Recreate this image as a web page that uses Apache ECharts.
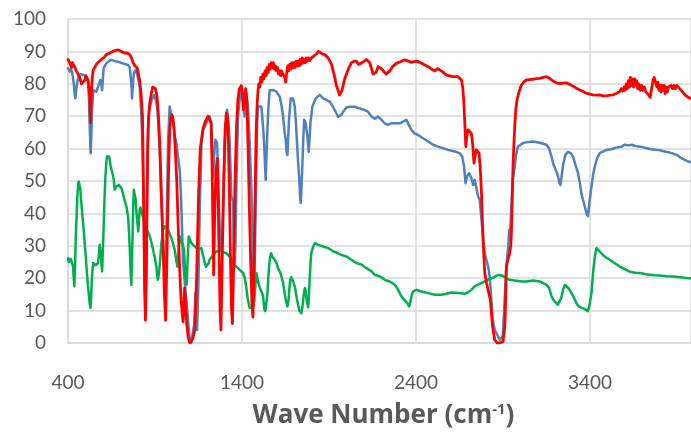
<!DOCTYPE html>
<html>
<head>
<meta charset="utf-8">
<script src="https://cdn.jsdelivr.net/npm/echarts@6/dist/echarts.min.js"></script>
<style>html,body{margin:0;padding:0;background:#fff;}#chart{width:691px;height:436px;}</style>
</head>
<body>
<div id="chart"></div>
<script>
const xTickLabels = [400, 1400, 2400, 3400];
const yTickLabels = [0, 10, 20, 30, 40, 50, 60, 70, 80, 90, 100];
const axisTitle = 'Wave Number (cm';
const axisTitleSup = '-1';

const blueData = [[400,84.8],[410,83.8],[418,84.5],[425,83.2],[433,80.2],[438,77],[442,75.5],[447,78],[452,80.2],[463,82.7],[475,83],[486,83.2],[496,82.5],[506,82.2],[515,80.7],[520,76],[525,66.8],[530,58.6],[534,64],[538,71.9],[543,76.5],[548,78],[556,78],[563,77.6],[575,79.5],[586,81.2],[591,80.5],[596,78],[601,82],[605,84.8],[620,86.3],[635,87],[649,87.4],[668,87],[688,86.8],[716,86.3],[745,85.8],[755,85],[759,84.8],[764,80],[768,75.5],[773,80],[778,83.2],[789,84.3],[797,83],[803,81.7],[812,79.1],[820,72],[828,61.7],[835,40],[840,20],[845,12],[850,25],[855,50],[860,66],[867,72],[880,75],[895,76.5],[905,75],[912,73],[920,67],[928,58],[938,42],[948,28],[956,23],[962,24],[968,40],[975,62],[984,73],[993,72.5],[1003,68],[1013,64],[1023,61.7],[1033,57],[1042,53.4],[1047,48],[1052,41],[1061,25.7],[1071,18.5],[1086,9.5],[1099,1],[1108,0],[1119,0],[1126,6],[1132,15.4],[1137,10],[1142,4],[1150,20],[1157,41],[1167,61.7],[1176,65.5],[1186,66.8],[1200,68.5],[1214,69.9],[1224,67.3],[1229,60],[1234,51.4],[1240,58],[1247,62.7],[1257,61.7],[1262,54],[1266,45.2],[1272,35],[1278,28.8],[1285,32],[1291,41],[1301,61.7],[1308,68],[1314,72],[1322,68],[1329,61.7],[1335,52],[1339,45.2],[1344,44.5],[1349,43.7],[1354,22.6],[1358,24],[1362,30],[1370,55],[1377,69.9],[1386,75],[1396,77.6],[1405,75],[1415,69.9],[1420,74],[1425,77],[1435,72],[1444,61.7],[1452,50],[1458,41],[1464,20],[1469,13],[1475,30],[1482,55],[1487,68],[1492,73],[1500,73.5],[1511,73],[1519,68],[1527,61.7],[1532,55],[1536,50.4],[1541,58],[1546,66],[1552,73],[1559,78],[1578,78.1],[1597,77.6],[1617,76],[1628,73],[1636,69.9],[1645,65],[1651,62.7],[1656,59],[1661,58],[1665,63],[1670,68.9],[1680,75.5],[1693,75.5],[1703,72.9],[1710,68],[1716,61.7],[1722,56],[1728,51.4],[1733,46],[1737,43.2],[1742,48],[1747,55.5],[1752,63],[1757,68.9],[1766,67.8],[1776,63.7],[1783,59],[1788,63],[1793,67.8],[1804,72.9],[1815,74.5],[1824,75.5],[1847,76.6],[1866,75.5],[1885,75],[1904,74.5],[1923,72.9],[1942,70.9],[1952,69.8],[1962,69.4],[1972,70.5],[1981,71.4],[2000,72.7],[2019,72.9],[2048,72.9],[2076,72.4],[2105,71.9],[2124,71.4],[2144,69.9],[2163,69.2],[2182,69.9],[2201,68.9],[2220,67.8],[2239,67.3],[2258,67.8],[2278,67.8],[2306,67.8],[2325,68.3],[2345,68.9],[2354,67.8],[2364,67.3],[2373,65.8],[2392,64.7],[2412,64.2],[2440,63.2],[2469,62.2],[2498,61.2],[2527,60.6],[2555,60.1],[2584,59.6],[2622,59.1],[2651,58.6],[2665,57.6],[2676,54.5],[2684,49.3],[2693,51.4],[2705,52.4],[2718,50.9],[2728,48.8],[2737,50.4],[2747,49.8],[2757,45.2],[2766,44.2],[2783,33.9],[2795,27.5],[2804,25.7],[2815,23.5],[2823,20.6],[2832,14],[2841,7.2],[2852,4],[2862,3],[2881,1],[2898,2],[2908,12],[2919,23.6],[2930,30],[2935,34.9],[2940,33],[2946,40],[2955,50],[2967,54.4],[2975,58],[2985,60.6],[3000,61.2],[3015,61.7],[3040,62],[3072,62.2],[3110,61.8],[3149,61.2],[3165,60],[3178,57.6],[3190,55],[3197,54.4],[3210,52.5],[3216,51.5],[3223,49.5],[3230,48.8],[3238,52],[3245,55],[3258,58],[3273,59],[3288,58.6],[3302,57.5],[3316,55],[3331,52.4],[3341,49.5],[3350,46.2],[3360,44],[3370,42.1],[3380,40],[3388,39.1],[3398,44],[3408,48.3],[3418,52],[3427,54.4],[3440,57],[3456,58.6],[3494,59.6],[3523,59.8],[3550,60.3],[3580,60.6],[3600,61.2],[3620,61],[3640,61.2],[3660,60.8],[3690,60.6],[3720,60.2],[3750,59.8],[3790,59.6],[3830,59.1],[3870,58.6],[3900,58],[3920,57.2],[3944,56.5],[3965,56],[3980,55.8]];

const redData = [[400,87.5],[405,88],[410,86.5],[415,87],[420,85],[425,86.5],[430,86],[440,85],[448,84],[458,83],[467,82],[477,80],[486,80.5],[496,81],[503,82.5],[509,82],[516,81],[521,80.5],[525,76],[529,68],[533,74],[536,79],[540,82],[544,84],[553,85],[563,86],[578,86.8],[592,87.5],[605,88],[620,89],[640,89.5],[659,90],[675,90.3],[688,90.5],[705,90],[726,89.5],[740,89.5],[755,89],[765,88],[774,86.5],[785,85.5],[797,85],[805,83],[812,81],[820,77],[828,70],[832,55],[836,38],[841,15],[845,7],[850,20],[854,42],[858,60],[862,69],[870,74],[879,77],[887,79],[895,79.5],[903,78.5],[912,76],[920,70],[927,62],[935,48],[946,31],[954,15],[961,7],[968,25],[975,45],[980,58],[985,66],[991,69.5],[997,70.5],[1003,69.5],[1010,66],[1018,58],[1025,50],[1032,38],[1040,25],[1050,13],[1061,6.5],[1066,12],[1070,17],[1076,12],[1082,6],[1090,2],[1100,0],[1110,0.3],[1118,1.5],[1124,2],[1128,4],[1134,12],[1140,22],[1150,45],[1160,60],[1175,66],[1190,68.5],[1205,70],[1214,70.5],[1222,68],[1228,55],[1233,35],[1237,21],[1243,40],[1250,53],[1258,57],[1263,45],[1268,28],[1274,10],[1279,4],[1286,25],[1295,50],[1303,66],[1310,71],[1316,70],[1322,62],[1328,45],[1334,25],[1340,10],[1345,6],[1352,25],[1360,50],[1368,66],[1376,75],[1385,78.5],[1396,79.5],[1402,77],[1408,72],[1414,75],[1421,78.5],[1428,75],[1435,60],[1443,40],[1450,25],[1457,12],[1463,8],[1468,20],[1475,45],[1481,65],[1487,74],[1492,78],[1496,80],[1502,79],[1508,82],[1514,80.5],[1520,83],[1526,81.5],[1532,84],[1538,82.5],[1544,85],[1550,83.5],[1556,86],[1562,84.5],[1568,86.5],[1574,85],[1580,86.5],[1586,84.5],[1592,85.5],[1598,84],[1604,85],[1610,83],[1616,84],[1622,82.5],[1628,84],[1634,83],[1640,83.5],[1646,82],[1651,80.5],[1656,83],[1662,85.5],[1668,84],[1674,86],[1680,84.5],[1686,86.5],[1692,85],[1698,86.5],[1704,85],[1710,87],[1716,85.5],[1722,87],[1728,85.5],[1734,87.5],[1740,86],[1746,88],[1752,86.5],[1758,87.5],[1764,86.5],[1770,88],[1776,87],[1782,88],[1790,87.2],[1799,88],[1810,88.5],[1827,89.2],[1840,90],[1850,89.8],[1860,89.2],[1875,89],[1895,88],[1905,87],[1914,86],[1924,84],[1933,82],[1942,79.5],[1952,78],[1960,76.5],[1968,76.8],[1975,78],[1981,79.5],[1990,81.5],[2000,83],[2015,85],[2029,86.5],[2045,87],[2057,87],[2070,86],[2080,85.5],[2090,86.5],[2100,87],[2115,87.5],[2125,87],[2134,86.5],[2145,84.5],[2153,83],[2162,82.5],[2170,83.5],[2182,85.3],[2192,85],[2201,84.7],[2215,83.8],[2228,83],[2239,82.4],[2250,84],[2265,85.3],[2287,86.3],[2310,86.8],[2335,87.4],[2354,87],[2373,86.6],[2402,87],[2431,86.4],[2450,85.8],[2469,85.3],[2490,84.5],[2507,84],[2525,84.7],[2536,84.8],[2555,83.6],[2575,82.7],[2613,82.2],[2641,82.2],[2661,81.2],[2668,79],[2674,75],[2680,68],[2686,60.6],[2692,64],[2699,65.8],[2710,65.5],[2718,64.7],[2726,61],[2733,55.5],[2740,58],[2747,59.6],[2755,59.5],[2762,58.6],[2769,54],[2776,46.2],[2785,32],[2795,21.6],[2805,18.5],[2814,16.4],[2827,13.4],[2839,5.3],[2852,1],[2866,0],[2881,0],[2900,0.5],[2910,5],[2914,11.5],[2919,23.6],[2928,25.7],[2938,27.7],[2944,30],[2948,34],[2953,45],[2957,54.4],[2962,61],[2967,66.8],[2973,72],[2980,75],[2992,77.5],[3005,79.6],[3020,80.6],[3034,81.2],[3050,81.3],[3072,81.4],[3090,81.6],[3111,81.7],[3130,82],[3149,82.2],[3165,81.8],[3178,81.2],[3192,80.7],[3207,80.3],[3222,80.1],[3236,80.1],[3250,80.2],[3264,80.3],[3283,79.8],[3302,79.3],[3322,78.6],[3341,78.1],[3360,77.6],[3379,77.1],[3398,76.8],[3417,76.6],[3440,76.5],[3456,76.6],[3475,76.3],[3494,76.3],[3515,76.5],[3532,76.6],[3550,77],[3560,77.2],[3571,77.6],[3580,78.5],[3588,77.8],[3596,79],[3602,78],[3608,80],[3614,78.5],[3620,81],[3626,79],[3632,82],[3638,79.5],[3644,81.5],[3650,79],[3656,81.5],[3662,79.5],[3668,81],[3674,78.5],[3680,80],[3688,78],[3696,79.5],[3704,78],[3712,79],[3720,77.5],[3730,78],[3738,76.5],[3745,75.8],[3752,78],[3760,80.5],[3768,82],[3776,81.5],[3784,79],[3790,80.5],[3796,78],[3802,79.5],[3808,77.5],[3814,79.5],[3820,78],[3826,79.5],[3832,77],[3838,79],[3844,77.5],[3850,79],[3858,78.5],[3866,79.5],[3874,78.5],[3882,79.5],[3890,78.5],[3898,79.5],[3906,79],[3915,78.5],[3925,78],[3935,77.3],[3945,76.6],[3955,76],[3965,75.8],[3980,75.5]];

const greenData = [[400,26.2],[405,25],[410,25.2],[415,26],[419,25.7],[425,24.5],[429,23.6],[433,20],[437,17.5],[441,25],[445,33],[450,40],[454,45.2],[458,49],[462,49.8],[467,48.5],[471,47.3],[477,43],[483,39.1],[490,35],[496,30.8],[503,26],[509,21.6],[514,18],[519,15.4],[524,12.5],[529,10.8],[533,14],[536,18.5],[540,22],[544,24.7],[549,25],[554,24.7],[559,24],[563,23.6],[568,24],[573,24.7],[578,27.5],[582,30.3],[586,28.5],[590,26.7],[593,24],[596,22.1],[600,28],[605,36],[610,45],[615,51.4],[620,55.5],[624,57.6],[630,58],[636,57.6],[641,56],[645,54.5],[650,53.5],[655,52.4],[659,51.5],[663,50.4],[666,48.5],[668,47.3],[673,47.8],[678,48.3],[686,48.6],[693,48.8],[700,48.3],[707,47.8],[714,46.5],[720,45.2],[728,43.5],[736,42.1],[745,39.1],[750,35],[755,28.8],[760,22],[764,18],[767,24],[770,30.8],[774,40],[778,47.3],[783,46],[789,44.2],[794,40],[799,37],[804,34.4],[808,38],[812,41.1],[816,41.8],[820,41.6],[827,39.6],[834,38.3],[841,37],[848,36],[854,34.9],[862,34],[870,32.9],[877,31.5],[885,29.8],[892,28],[898,26.7],[903,25],[908,23.6],[912,21],[916,19.5],[920,20.5],[923,21.6],[930,26],[937,30.8],[946,34.9],[956,36],[965,35.5],[975,34.9],[994,32.4],[1013,28.8],[1021,26],[1028,23.6],[1035,28],[1042,32.9],[1048,32],[1055,30.8],[1061,30],[1067,28.8],[1071,24],[1075,20.6],[1082,18],[1087,25],[1094,32.9],[1100,32],[1109,30.8],[1128,29.8],[1147,28.8],[1166,29.3],[1176,27],[1186,24.7],[1193,23.5],[1199,23.1],[1207,24.5],[1214,25.7],[1233,27.2],[1253,28.3],[1281,28.3],[1310,27.7],[1329,26.7],[1349,24.7],[1368,23.6],[1387,22.6],[1406,21.6],[1416,20],[1425,17],[1432,14],[1438,12.3],[1444,10.8],[1455,10.6],[1463,10.8],[1470,13],[1477,18],[1483,21.5],[1492,19],[1500,17.5],[1507,16.4],[1515,15.5],[1521,14.4],[1527,11],[1532,9.8],[1536,10.5],[1541,13],[1546,15.4],[1552,21],[1559,25.7],[1567,27.7],[1575,26.5],[1588,25.7],[1598,24.7],[1607,23.1],[1621,21.6],[1636,18.5],[1646,15],[1651,13.4],[1661,11.3],[1667,13],[1670,15.4],[1676,19],[1682,20.3],[1690,19.5],[1703,17.5],[1716,13.4],[1729,10],[1741,9.2],[1748,11.5],[1755,15],[1761,17],[1766,16],[1772,13],[1780,11],[1784,14],[1789,20],[1794,25],[1799,28],[1809,29.8],[1818,30.8],[1837,30.3],[1866,29.8],[1895,29.3],[1924,28.3],[1952,27.7],[1971,27.2],[2000,26.7],[2029,25.7],[2057,24.7],[2086,24.2],[2115,23.1],[2144,22.1],[2163,21],[2191,20.6],[2220,19.5],[2249,19],[2278,18],[2297,16.4],[2316,14.4],[2331,13.4],[2341,12.8],[2350,12.3],[2360,11.3],[2365,12],[2370,13.4],[2376,15],[2383,15.9],[2402,16.4],[2431,15.9],[2469,15.4],[2508,14.9],[2546,14.9],[2575,15.2],[2603,15.6],[2642,15.4],[2680,15.2],[2699,15.6],[2718,16.4],[2737,17.5],[2757,18],[2776,18.5],[2795,19],[2815,19.6],[2842,20.1],[2862,20.8],[2881,21],[2900,20.7],[2910,20.3],[2925,19.8],[2938,19.5],[2967,19.3],[3006,19],[3034,19],[3073,19.3],[3111,19],[3130,18.5],[3149,18],[3165,17],[3178,14.5],[3188,13.4],[3200,12.6],[3207,12.3],[3215,11.8],[3226,11.2],[3235,14],[3245,16.5],[3255,17.9],[3264,17.9],[3275,17],[3283,16.4],[3302,14.6],[3320,12.5],[3331,11.5],[3345,11],[3360,10.7],[3375,10.3],[3388,9.8],[3398,12],[3408,15.4],[3418,22],[3427,26.5],[3437,29.3],[3446,29.2],[3460,28],[3475,27.1],[3495,26.3],[3513,25.7],[3540,24.7],[3571,23.6],[3600,22.8],[3628,22],[3657,21.7],[3686,21.6],[3715,21.3],[3743,21.1],[3770,20.9],[3800,20.8],[3840,20.6],[3877,20.5],[3920,20.3],[3963,20],[3980,20]];

const X_MIN = 400, X_MAX = 3980;
const gridColor = '#D9D9D9';
const textColor = '#595959';
const FONT = 'Lato, "Open Sans", sans-serif';
const TITLE_FONT = '"Open Sans", Lato, sans-serif';

const chart = echarts.init(document.getElementById('chart'), null, {renderer: 'canvas'});
function line(name, data, color, width) {
  return {name, type: 'line', xAxisIndex: 0, yAxisIndex: 0, data, showSymbol: false, symbol: 'none',
    lineStyle: {color, width, join: 'round', cap: 'round'}, itemStyle: {color}, z: 2};
}
chart.setOption({
  animation: false,
  grid: {left: 68, right: 0, top: 19, bottom: 93, containLabel: false},
  xAxis: [
    {type: 'value', min: X_MIN, max: X_MAX, show: false},
    {type: 'value', min: 0, max: X_MAX - X_MIN, interval: 1000, position: 'bottom',
     axisLine: {show: true, lineStyle: {color: gridColor, width: 1.5}},
     axisTick: {show: false},
     splitLine: {show: true, lineStyle: {color: gridColor, width: 1.5}},
     axisLabel: {color: textColor, fontSize: 19, fontFamily: FONT, margin: 30, showMaxLabel: false,
       formatter: v => { const i = Math.round(v / 1000); return (v % 1000 === 0 && i < xTickLabels.length) ? String(xTickLabels[i]) : ''; }},
     name: '{t|' + axisTitle + '}{s|' + axisTitleSup + '}{t|)}',
     nameLocation: 'middle', nameGap: 59,
     nameTextStyle: {padding: [0, 0, 0, 8], rich: {
       t: {fontSize: 26, fontWeight: 'bold', color: textColor, fontFamily: TITLE_FONT},
       s: {fontSize: 15, fontWeight: 'bold', color: textColor, fontFamily: TITLE_FONT, padding: [0, 0, 13, 0]}
     }}}
  ],
  yAxis: {type: 'value', min: 0, max: 100, interval: 10,
    axisLine: {show: true, lineStyle: {color: gridColor, width: 1.5}},
    axisTick: {show: false},
    splitLine: {show: true, lineStyle: {color: gridColor, width: 1.5}},
    axisLabel: {color: textColor, fontSize: 19, fontFamily: FONT, margin: 22,
      formatter: v => String(yTickLabels[Math.round(v / 10)])}},
  series: [
    line('Blue', blueData, '#4F81BD', 2.5),
    line('Green', greenData, '#00B050', 2.5),
    line('Red', redData, '#FF0000', 2.8)
  ]
});
</script>
</body>
</html>
